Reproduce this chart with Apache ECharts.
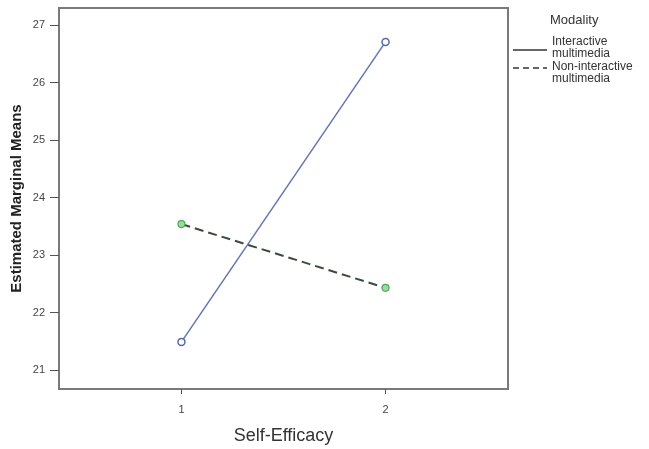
<!DOCTYPE html>
<html lang="en">
<head>
    <meta charset="UTF-8">
    <title>Estimated Marginal Means</title>
    <script src="https://cdn.jsdelivr.net/npm/echarts@6/dist/echarts.min.js"></script>
    <style>
        html, body { margin: 0; padding: 0; background: #fff; }
        #chart { width: 649px; height: 449px; }
    </style>
</head>
<body>
    <div id="chart"></div>
    <script>
        // self-efficacy levels and estimated means per modality
        var efficacy = [1, 2];
        var interactive = [21.49, 26.71];
        var nonInteractive = [23.54, 22.43];
        var yTicks = [21, 22, 23, 24, 25, 26, 27];

        var font = 'Liberation Sans, Arial, sans-serif';

        function pairs(xs, ys) {
            return xs.map(function (x, i) { return [x, ys[i]]; });
        }

        var chart = echarts.init(document.getElementById('chart'));
        chart.setOption({
            animation: false,
            grid: {
                left: 59, top: 8, right: 141, bottom: 60,
                outerBoundsMode: 'none',
                show: true, borderColor: '#7a7a7a', borderWidth: 2
            },
            xAxis: {
                type: 'value',
                min: 0.4, max: 2.6,
                name: 'Self-Efficacy',
                nameLocation: 'middle',
                nameGap: 38,
                nameMoveOverlap: false,
                nameTextStyle: { fontFamily: font, fontSize: 18, color: '#333' },
                splitLine: { show: false },
                axisLine: { lineStyle: { color: '#7a7a7a', width: 2 } },
                axisTick: { show: true, length: 5, customValues: efficacy, lineStyle: { color: '#555' } },
                axisLabel: { customValues: efficacy, margin: 15, fontFamily: font, fontSize: 11, color: '#444' }
            },
            yAxis: {
                type: 'value',
                min: 20.67, max: 27.3,
                name: 'Estimated Marginal Means',
                nameLocation: 'middle',
                nameGap: 35,
                nameMoveOverlap: false,
                nameTextStyle: { fontFamily: font, fontSize: 15, fontWeight: 'bold', color: '#222' },
                splitLine: { show: false },
                axisLine: { show: true, lineStyle: { color: '#7a7a7a', width: 2 } },
                axisTick: { show: true, length: 9, customValues: yTicks, lineStyle: { color: '#555' } },
                axisLabel: { customValues: yTicks, margin: 14, fontFamily: font, fontSize: 11, color: '#444' }
            },
            series: [
                {
                    name: 'Interactive multimedia',
                    type: 'line',
                    data: pairs(efficacy, interactive),
                    symbol: 'circle',
                    symbolSize: 7,
                    lineStyle: { color: '#6675b0', width: 1.5 },
                    itemStyle: { color: '#fff', borderColor: '#5a6aa8', borderWidth: 1.5 }
                },
                {
                    name: 'Non-interactive multimedia',
                    type: 'line',
                    data: pairs(efficacy, nonInteractive),
                    symbol: 'circle',
                    symbolSize: 7,
                    lineStyle: { color: '#3c4a3c', width: 2, type: [9, 5] },
                    itemStyle: { color: '#9fd8a0', borderColor: '#4caa55', borderWidth: 1.2 }
                }
            ],
            graphic: [
                { type: 'text', left: 550, top: 14, style: { text: 'Modality', font: '13px ' + font, fill: '#333' } },
                { type: 'line', shape: { x1: 513, y1: 50, x2: 547, y2: 50 }, style: { stroke: '#333', lineWidth: 1.5 } },
                { type: 'text', left: 552, top: 36, style: { text: 'Interactive\nmultimedia', font: '12px ' + font, lineHeight: 12, fill: '#333' } },
                { type: 'line', shape: { x1: 513, y1: 68, x2: 547, y2: 68 }, style: { stroke: '#333', lineWidth: 1.5, lineDash: [6, 4] } },
                { type: 'text', left: 552, top: 61, style: { text: 'Non-interactive\nmultimedia', font: '12px ' + font, lineHeight: 12, fill: '#333' } }
            ]
        });
    </script>
</body>
</html>
